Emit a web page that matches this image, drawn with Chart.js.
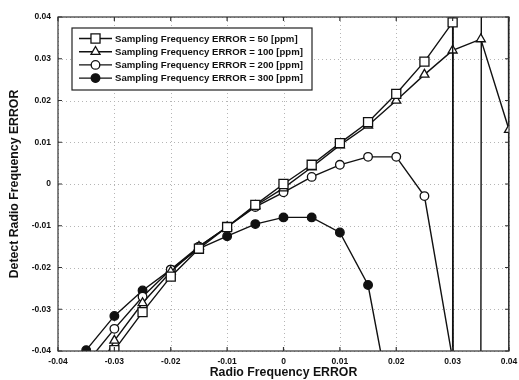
<!DOCTYPE html>
<html>
<head>
<meta charset="utf-8">
<script src="https://cdn.jsdelivr.net/npm/chart.js@4/dist/chart.umd.min.js"></script>
<style>
  html, body { margin: 0; padding: 0; background: #fff; }
  #wrap { width: 519px; height: 380px; }
</style>
</head>
<body>
<div id="wrap"><canvas id="chart" width="519" height="380"></canvas></div>
<script>
// --- data ---
const radioErr = [-0.035, -0.03, -0.025, -0.02, -0.015, -0.01, -0.005, 0, 0.005, 0.01, 0.015, 0.02, 0.025, 0.03, 0.035, 0.04];
// values far outside +-0.04 are the wrap-around jumps (only visible as vertical lines)
const sf50  = [-0.05, -0.0398, -0.0307, -0.0222, -0.0155, -0.0103, -0.005, 0.0, 0.0046, 0.0098, 0.0148, 0.0216, 0.0293, 0.0387, -5, null];
const sf100 = [-0.05, -0.0375, -0.0285, -0.021, -0.015, -0.0103, -0.0052, -0.001, 0.004, 0.0093, 0.014, 0.020, 0.0262, 0.032, 0.0347, 0.013];
const sf200 = [-0.043, -0.0347, -0.027, -0.0205, -0.015, -0.0103, -0.0055, -0.002, 0.0017, 0.0046, 0.0065, 0.0065, -0.0029, -0.042, 5, -0.05];
const sf300 = [-0.0398, -0.0316, -0.0255, -0.0205, -0.0155, -0.0125, -0.0096, -0.008, -0.008, -0.0116, -0.0242, -0.06, -5, -5, -0.05, 5];

const seriesNames = [
  'Sampling Frequency ERROR = 50 [ppm]',
  'Sampling Frequency ERROR = 100 [ppm]',
  'Sampling Frequency ERROR = 200 [ppm]',
  'Sampling Frequency ERROR = 300 [ppm]'
];
const xTicks = [-0.04, -0.03, -0.02, -0.01, 0, 0.01, 0.02, 0.03, 0.04];
const yTicks = [-0.04, -0.03, -0.02, -0.01, 0, 0.01, 0.02, 0.03, 0.04];
const xTickLabels = ['-0.04', '-0.03', '-0.02', '-0.01', '0', '0.01', '0.02', '0.03', '0.04'];
const yTickLabels = ['-0.04', '-0.03', '-0.02', '-0.01', '0', '0.01', '0.02', '0.03', '0.04'];

const INK = '#111';
const FONT = '"Liberation Sans", Arial, sans-serif';

function pts(ys) {
  return radioErr.map((x, i) => ({ x, y: ys[i] }));
}

const markers = [
  { pointStyle: 'rect',     radius: 6.4, fill: '#fff' },
  { pointStyle: 'triangle', radius: 5.2, fill: '#fff' },
  { pointStyle: 'circle',   radius: 4.3, fill: '#fff' },
  { pointStyle: 'circle',   radius: 4.3, fill: INK }
];

const datasets = [sf50, sf100, sf200, sf300].map((ys, i) => ({
  label: seriesNames[i],
  data: pts(ys),
  borderColor: INK,
  borderWidth: 1.4,
  pointStyle: markers[i].pointStyle,
  pointRadius: markers[i].radius,
  pointBackgroundColor: markers[i].fill,
  pointBorderColor: INK,
  pointBorderWidth: 1.3,
  tension: 0,
  spanGaps: false
}));

// dotted grid, box frame and inner tick marks (matlab look)
const frame = {
  id: 'frame',
  beforeDatasetsDraw(chart) {
    const { ctx, chartArea: a, scales: { x, y } } = chart;
    ctx.save();
    ctx.strokeStyle = '#b5b5b5';
    ctx.lineWidth = 1;
    ctx.setLineDash([1, 3]);
    xTicks.forEach(v => {
      const px = Math.round(x.getPixelForValue(v)) + 0.5;
      ctx.beginPath(); ctx.moveTo(px, a.top); ctx.lineTo(px, a.bottom); ctx.stroke();
    });
    yTicks.forEach(v => {
      const py = Math.round(y.getPixelForValue(v)) + 0.5;
      ctx.beginPath(); ctx.moveTo(a.left, py); ctx.lineTo(a.right, py); ctx.stroke();
    });
    ctx.restore();
  },
  afterDatasetsDraw(chart) {
    const { ctx, chartArea: a, scales: { x, y } } = chart;
    ctx.save();
    ctx.strokeStyle = '#333';
    ctx.lineWidth = 1.2;
    ctx.strokeRect(a.left, a.top, a.right - a.left, a.bottom - a.top);
    const t = 4;
    xTicks.forEach(v => {
      const px = x.getPixelForValue(v);
      ctx.beginPath();
      ctx.moveTo(px, a.bottom); ctx.lineTo(px, a.bottom - t);
      ctx.moveTo(px, a.top); ctx.lineTo(px, a.top + t);
      ctx.stroke();
    });
    yTicks.forEach(v => {
      const py = y.getPixelForValue(v);
      ctx.beginPath();
      ctx.moveTo(a.left, py); ctx.lineTo(a.left + t, py);
      ctx.moveTo(a.right, py); ctx.lineTo(a.right - t, py);
      ctx.stroke();
    });
    ctx.restore();
  }
};

// legend box in the upper left of the axes
const legendBox = {
  id: 'legendBox',
  afterDraw(chart) {
    const { ctx } = chart;
    const box = { x: 72, y: 28, w: 240, h: 62 };
    ctx.save();
    ctx.fillStyle = '#fff';
    ctx.fillRect(box.x, box.y, box.w, box.h);
    ctx.strokeStyle = '#222';
    ctx.lineWidth = 1.2;
    ctx.strokeRect(box.x, box.y, box.w, box.h);
    ctx.font = 'bold 9.6px ' + FONT;
    ctx.textBaseline = 'middle';
    ctx.textAlign = 'left';
    datasets.forEach((ds, i) => {
      const yy = box.y + 10.5 + i * 13.2;
      ctx.strokeStyle = INK;
      ctx.lineWidth = 1.4;
      ctx.beginPath(); ctx.moveTo(box.x + 7, yy); ctx.lineTo(box.x + 40, yy); ctx.stroke();
      ctx.fillStyle = ds.pointBackgroundColor;
      ctx.strokeStyle = INK;
      ctx.lineWidth = 1.3;
      Chart.helpers.drawPoint(ctx, {
        pointStyle: ds.pointStyle, radius: ds.pointRadius, borderWidth: 1.3, rotation: 0
      }, box.x + 23.5, yy);
      ctx.fillStyle = INK;
      ctx.fillText(ds.label, box.x + 43, yy + 0.5);
    });
    ctx.restore();
  }
};

new Chart(document.getElementById('chart'), {
  type: 'line',
  data: { datasets },
  plugins: [frame, legendBox],
  options: {
    responsive: false,
    animation: false,
    devicePixelRatio: 1,
    layout: { padding: { left: 0, right: 0, top: 17, bottom: 0 } },
    plugins: { legend: { display: false }, tooltip: { enabled: false } },
    scales: {
      x: {
        type: 'linear', min: -0.04, max: 0.04,
        grid: { display: false, drawTicks: false },
        border: { display: false },
        afterBuildTicks: s => { s.ticks = xTicks.map(v => ({ value: v })); },
        afterFit: s => { s.height = 29; s.paddingRight = 10; s.paddingLeft = 0; },
        ticks: {
          color: INK, padding: 6, maxRotation: 0, autoSkip: false,
          font: { family: FONT, size: 8.5, weight: 'bold' },
          callback: (v, i) => xTickLabels[i]
        },
        title: {
          display: true, text: 'Radio Frequency ERROR', color: INK,
          font: { family: FONT, size: 12.3, weight: 'bold' },
          padding: { top: 0, bottom: 0 }
        }
      },
      y: {
        type: 'linear', min: -0.04, max: 0.04,
        grid: { display: false, drawTicks: false },
        border: { display: false },
        afterBuildTicks: s => { s.ticks = yTicks.map(v => ({ value: v })); },
        afterFit: s => { s.width = 58; s.paddingTop = 0; s.paddingBottom = 0; },
        ticks: {
          color: INK, padding: 7, autoSkip: false,
          font: { family: FONT, size: 8.5, weight: 'bold' },
          callback: (v, i) => yTickLabels[i]
        },
        title: {
          display: true, text: 'Detect Radio Frequency ERROR', color: INK,
          font: { family: FONT, size: 12.3, weight: 'bold' },
          padding: { top: 7, bottom: 0 }
        }
      }
    }
  }
});
</script>
</body>
</html>
